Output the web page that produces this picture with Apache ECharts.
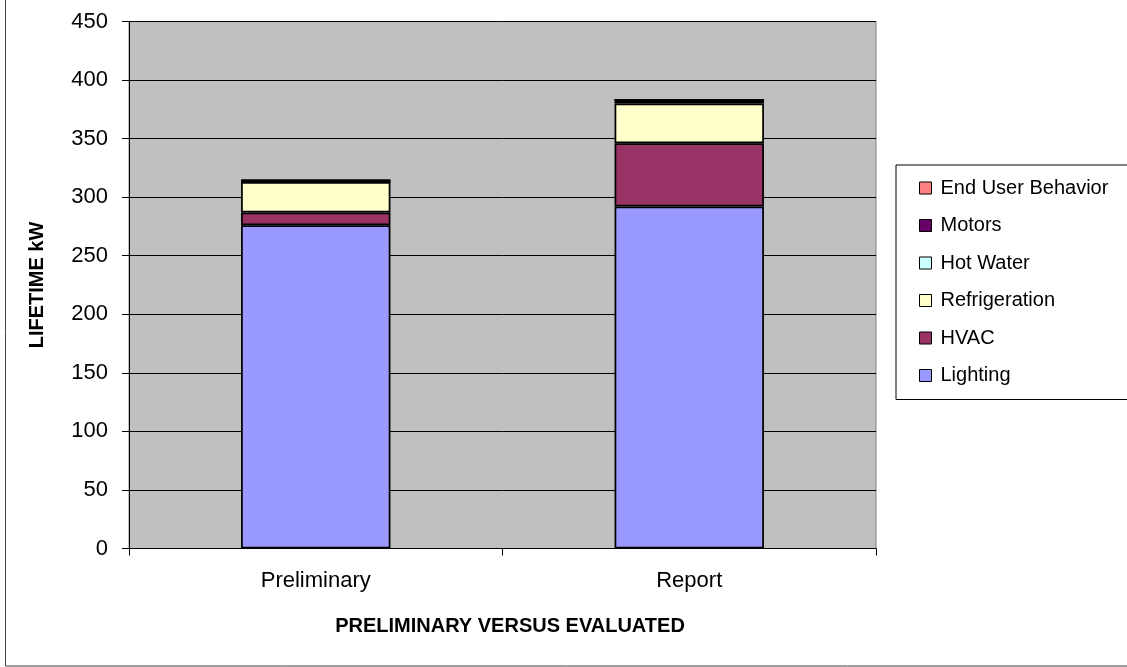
<!DOCTYPE html>
<html>
<head>
<meta charset="utf-8">
<script src="https://cdn.jsdelivr.net/npm/echarts@6/dist/echarts.min.js"></script>
<style>
  html, body { margin: 0; padding: 0; background: #fff; }
  #chart { width: 1127px; height: 667px; }
</style>
</head>
<body>
<div id="chart"></div>
<script>
// Lifetime kW savings by end use, preliminary estimate vs. evaluated report
const categories = ['Preliminary', 'Report'];
const lighting = [276, 292];
const hvac = [11, 54];
const refrigeration = [26, 34];
const hotWater = [0, 3];
const motors = [1.5, 0];
const endUserBehavior = [0, 0];

const yTicks = { min: 0, max: 450, interval: 50 };

const seriesDefs = [
  { name: 'Lighting', data: lighting, color: '#9999FF' },
  { name: 'HVAC', data: hvac, color: '#993366' },
  { name: 'Refrigeration', data: refrigeration, color: '#FFFFCC' },
  { name: 'Hot Water', data: hotWater, color: '#CCFFFF' },
  { name: 'Motors', data: motors, color: '#660066' },
  { name: 'End User Behavior', data: endUserBehavior, color: '#FF8080' }
];

const font = '"Liberation Sans", Arial, sans-serif';

const chart = echarts.init(document.getElementById('chart'), null, { renderer: 'canvas' });

chart.setOption({
  backgroundColor: '#ffffff',
  animation: false,
  textStyle: { fontFamily: font, color: '#000' },
  grid: {
    left: 129, right: 251, top: 21.5, bottom: 118.5,
    show: true, backgroundColor: '#C0C0C0', borderColor: '#808080', borderWidth: 1
  },
  legend: {
    orient: 'vertical',
    left: 896, top: 165,
    padding: [13, 40, 14, 23],
    itemGap: 17.5,
    itemWidth: 12, itemHeight: 12,
    icon: 'rect',
    borderColor: '#000', borderWidth: 1,
    backgroundColor: '#fff',
    itemStyle: { borderColor: '#000', borderWidth: 1 },
    textStyle: { fontFamily: font, fontSize: 20, color: '#000', padding: [0, 0, 0, 4] },
    data: seriesDefs.map(s => s.name).reverse()
  },
  xAxis: {
    type: 'category',
    data: categories,
    boundaryGap: true,
    axisLine: { lineStyle: { color: '#000', width: 1 } },
    axisTick: { show: true, length: 7, inside: false, alignWithLabel: false, lineStyle: { color: '#000' } },
    axisLabel: { fontFamily: font, fontSize: 22, color: '#000', margin: 21 },
    splitLine: { show: false }
  },
  yAxis: {
    type: 'value',
    min: yTicks.min, max: yTicks.max, interval: yTicks.interval,
    name: 'LIFETIME kW',
    nameLocation: 'middle',
    nameGap: 82,
    nameRotate: 90,
    nameTextStyle: { fontFamily: font, fontSize: 20, fontWeight: 'bold', color: '#000' },
    axisLine: { show: true, lineStyle: { color: '#000', width: 1 } },
    axisTick: { show: true, length: 7, lineStyle: { color: '#000' } },
    axisLabel: { fontFamily: font, fontSize: 22, color: '#000', margin: 21 },
    splitLine: { show: true, lineStyle: { color: '#000', width: 1 } }
  },
  graphic: [
    {
      type: 'rect',
      shape: { x: 5.5, y: -10, width: 1140, height: 676 },
      style: { fill: 'none', stroke: '#404040', lineWidth: 1 },
      silent: true, z: -1
    },
    {
      type: 'text',
      x: 510, y: 626,
      style: {
        text: 'PRELIMINARY VERSUS EVALUATED',
        fontFamily: font, fontSize: 20, fontWeight: 'bold', fill: '#000',
        textAlign: 'center', textVerticalAlign: 'middle'
      }
    }
  ],
  series: seriesDefs.map(s => ({
    name: s.name,
    type: 'bar',
    stack: 'total',
    barWidth: '40%',
    data: s.data,
    itemStyle: { color: s.color, borderColor: '#000', borderWidth: 1.75 }
  }))
});
</script>
</body>
</html>
